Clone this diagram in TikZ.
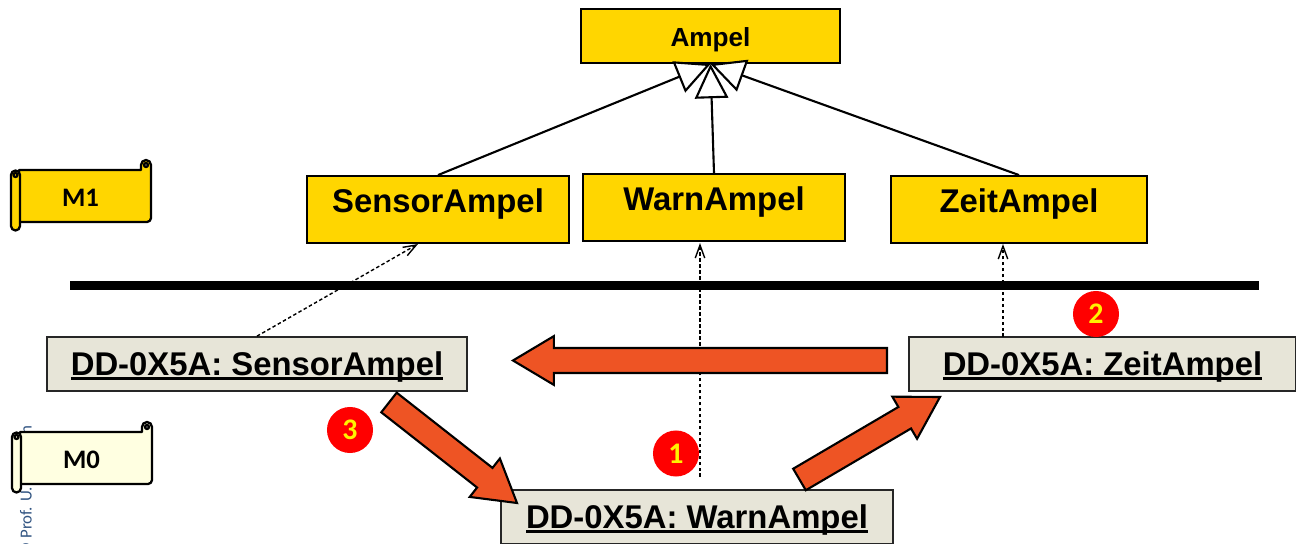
\documentclass[tikz,border=0pt]{standalone}
\usepackage{fontspec}
\setmainfont{Liberation Sans}
\newfontfamily\carlito{Carlito}
\usetikzlibrary{arrows.meta}
\usetikzlibrary{calc}

\definecolor{ampelgelb}{RGB}{255,214,0}
\definecolor{hellgelb}{RGB}{255,255,225}
\definecolor{objektgrau}{RGB}{231,229,216}
\definecolor{pfeilrot}{RGB}{238,84,36}
\definecolor{profblau}{RGB}{50,85,130}

\tikzset{
    klasse/.style={draw=black, fill=ampelgelb, line width=1.2pt, inner sep=0pt, font=\bfseries\fontsize{18.7}{20}\selectfont, text height=20.5pt, text depth=17.5pt},
    objekt/.style={draw=black!85, fill=objektgrau, line width=1pt, inner sep=0pt, font=\bfseries\fontsize{18.7}{20}\selectfont, text height=22pt, text depth=8.7pt},
    erbt/.style={line width=1.2pt, -{Triangle[open, fill=white, length=19.5pt, width=19pt]}},
    instanz/.style={line width=0.8pt, dash pattern=on 2pt off 1.4pt, -{Straight Barb[length=7.4pt, width=5.4pt]}},
    grosspfeil/.style={draw=black, fill=pfeilrot, line width=1.2pt, line join=miter},
    nummer/.style={circle, fill=red, text=yellow, inner sep=0pt, minimum size=26.2pt, font=\carlito\bfseries\fontsize{17}{17}\selectfont},
    rolle/.style={draw=black, line width=1.3pt, line join=round},
}

% block arrow from tail to tip
\newcommand{\grosspfeil}[2]{
    \coordinate (h) at ($(#2)!23.3pt!(#1)$);
    \draw[grosspfeil] ($(#1)!7.1pt!90:(#2)$) -- ($(h)!7.1pt!90:(#2)$) -- ($(h)!13.9pt!90:(#2)$) -- (#2)
        -- ($(h)!13.9pt!-90:(#2)$) -- ($(h)!7.1pt!-90:(#2)$) -- ($(#1)!7.1pt!-90:(#2)$) -- cycle;
}

% underlined text, line close under the baseline
\newcommand{\unterstrich}[1]{\setbox0=\hbox{#1}\rlap{\rule[-2.2pt]{\wd0}{1.3pt}}\box0}

% scroll with label
\newcommand{\rolle}[5]{
    \begin{scope}[shift={(#1,#2)}]
        \draw[rolle, fill=#3] (141,170) -- (141,165) arc[start angle=180, end angle=360, radius=5] -- (151,218)
            arc[start angle=0, end angle=90, radius=4] -- (147,222) -- (19,222) -- (19,170) -- cycle;
        \draw[rolle, fill=black!40] (146,165) circle[radius=2];
        \draw[rolle, fill=#3] (11,175) arc[start angle=180, end angle=360, radius=4.5] -- (20,226)
            arc[start angle=0, end angle=180, radius=4.5] -- cycle;
        \draw[rolle, fill=#3] (15.5,175) circle[radius=2];
        \node[font=\carlito\bfseries\fontsize{15.2}{16}\selectfont] (#4) at (80.5,197.5) {#5};
    \end{scope}
}

\begin{document}
\begin{tikzpicture}[x=0.02cm, y=-0.02cm]
    \useasboundingbox (0,0) rectangle (1296,544);

    \node[rotate=90, anchor=east, inner sep=0pt, text=profblau, font=\carlito\fontsize{9.6}{10}\selectfont] (prof) at (26,425) {© Prof. U. Aßmann};

    % classes
    \node[klasse, minimum width=259*0.02cm, text height=21.6pt, text depth=9.1pt, font=\bfseries\fontsize{14.9}{15}\selectfont] (ampel) at (710.5,36) {Ampel};
    \node[klasse, minimum width=262*0.02cm] (sensor) at (438,209.5) {SensorAmpel};
    \node[klasse, minimum width=262*0.02cm] (warn) at (714,207.5) {WarnAmpel};
    \node[klasse, minimum width=256*0.02cm] (zeit) at (1019,209.5) {ZeitAmpel};

    \foreach \k in {sensor,zeit,warn}{
        \draw[erbt] (\k.north) -- (ampel.south);
    }

    \draw[line width=5.1pt] (70,285.3) -- (1259,285.3);

    % objects
    \node[objekt, minimum width=420*0.02cm] (dsensor) at (257,364) {\unterstrich{DD-0X5A: SensorAmpel}};
    \node[objekt, minimum width=387*0.02cm] (dzeit) at (1102.5,364) {\unterstrich{DD-0X5A: ZeitAmpel}};
    \node[objekt, minimum width=392*0.02cm] (dwarn) at (697,517) {\unterstrich{DD-0X5A: WarnAmpel}};

    \coordinate (sensorfuss) at (418,244);
    \coordinate (warnfuss) at (700,243);
    \coordinate (warnstart) at (700,477);
    \coordinate (zeitfuss) at (1003,244);
    \coordinate (zeitstart) at (1003,337);
    \draw[instanz] (dsensor.north) -- (sensorfuss);
    \draw[instanz] (warnstart) -- (warnfuss);
    \draw[instanz] (zeitstart) -- (zeitfuss);

    \coordinate (zeitaus) at (887,360.5);
    \coordinate (sensorein) at (513,360.5);
    \coordinate (sensoraus) at (389,402.5);
    \coordinate (warnein) at (517,503);
    \coordinate (warnaus) at (799.5,479.5);
    \coordinate (zeitein) at (940,397);
    \grosspfeil{zeitaus}{sensorein}
    \grosspfeil{sensoraus}{warnein}
    \grosspfeil{warnaus}{zeitein}

    \node[nummer] (n1) at (676,453.5) {1};
    \node[nummer] (n2) at (1096,314) {2};
    \node[nummer] (n3) at (350,430) {3};

    \rolle{0}{0}{ampelgelb}{m1}{M1}
    \rolle{1}{262}{hellgelb}{m0}{M0}
\end{tikzpicture}
\end{document}
